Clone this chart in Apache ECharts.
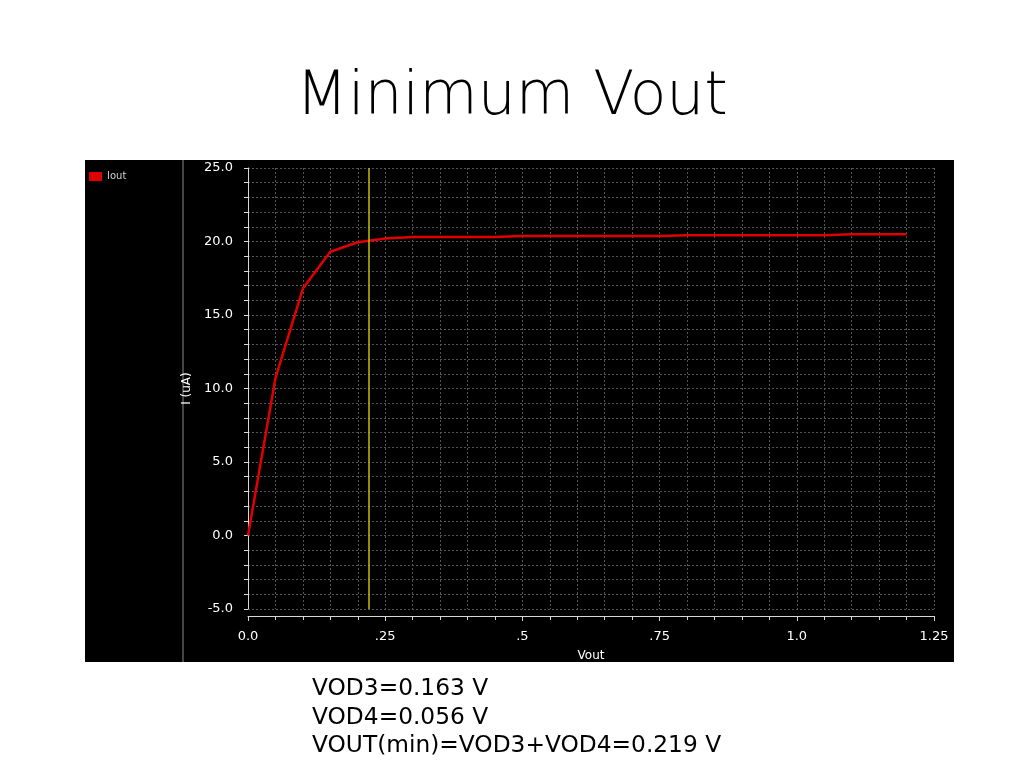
<!DOCTYPE html>
<html><head><meta charset="utf-8">
<script src="https://cdn.jsdelivr.net/npm/echarts@6/dist/echarts.min.js"></script>
<style>html,body{margin:0;padding:0;background:#fff}#c{width:1024px;height:768px}</style>
</head><body><div id="c"></div>
<script>
const vout = [0, 0.05, 0.1, 0.15, 0.2, 0.25, 0.3, 0.35, 0.4, 0.45, 0.5, 0.55, 0.6, 0.65, 0.7, 0.75, 0.8, 0.85, 0.9, 0.95, 1.0, 1.05, 1.1, 1.15, 1.2];
const iout = [0, 10.7, 16.8, 19.3, 19.95, 20.2, 20.3, 20.3, 20.3, 20.3, 20.38, 20.38, 20.38, 20.38, 20.38, 20.38, 20.42, 20.42, 20.42, 20.42, 20.42, 20.42, 20.5, 20.5, 20.5];
const cursorX = 0.219;
const xTickLabels = {"0": "0.0", "0.25": ".25", "0.5": ".5", "0.75": ".75", "1": "1.0", "1.25": "1.25"};
const notes = ["VOD3=0.163 V", "VOD4=0.056 V", "VOUT(min)=VOD3+VOD4=0.219 V"];

const chart = echarts.init(document.getElementById('c'), null, {renderer: 'canvas'});
const gridStyle = {color: '#555555', type: [2, 2], width: 1};
chart.setOption({
  backgroundColor: '#ffffff',
  animation: false,
  title: {text: 'Minimum Vout', left: 'center', top: 63,
    textStyle: {fontFamily: 'DejaVu Sans', fontWeight: 200, fontSize: 60, color: '#000'}},
  graphic: [
    {type: 'rect', shape: {x: 85, y: 160, width: 869, height: 502}, style: {fill: '#000'}, z: -10},
    {type: 'line', shape: {x1: 183, y1: 160, x2: 183, y2: 662}, style: {stroke: '#8a8a8a', lineWidth: 1}, z: -9},
    {type: 'rect', shape: {x: 89, y: 172, width: 13, height: 9}, style: {fill: '#e00000'}},
    {type: 'text', x: 107, y: 171, style: {text: 'Iout', fill: '#d0d0d0', fontSize: 10, fontFamily: 'DejaVu Sans'}},
    {type: 'text', x: 312, y: 675, style: {text: notes.join('\n'), fill: '#000', fontSize: 23.3, fontWeight: 'normal', lineHeight: 28.5, fontFamily: 'DejaVu Sans'}}
  ],
  grid: {left: 248, right: 90, top: 168, bottom: 159, containLabel: false},
  xAxis: {
    type: 'value', min: 0, max: 1.25, interval: 0.25, offset: 7,
    name: 'Vout', nameLocation: 'middle', nameGap: 34,
    nameTextStyle: {color: '#fff', fontSize: 12, fontFamily: 'DejaVu Sans'},
    axisLine: {show: true, onZero: false, lineStyle: {color: '#d8d8d8', width: 1}},
    axisTick: {show: true, length: 5, lineStyle: {color: '#d8d8d8'}},
    minorTick: {show: true, splitNumber: 5, length: 4, lineStyle: {color: '#d8d8d8'}},
    axisLabel: {color: '#fff', fontSize: 13, fontFamily: 'DejaVu Sans', margin: 14,
      formatter: v => xTickLabels[String(+v.toFixed(2))] ?? String(v)},
    splitLine: {show: true, lineStyle: gridStyle},
    minorSplitLine: {show: true, lineStyle: gridStyle}
  },
  yAxis: {
    type: 'value', min: -5, max: 25, interval: 5, offset: 8,
    name: 'I (uA)', nameLocation: 'middle', nameGap: 43, nameRotate: 90,
    nameTextStyle: {color: '#fff', fontSize: 12, fontFamily: 'DejaVu Sans'},
    axisLine: {show: true, lineStyle: {color: '#d8d8d8', width: 1}},
    axisTick: {show: true, length: 4, lineStyle: {color: '#d8d8d8'}},
    minorTick: {show: true, splitNumber: 5, length: 4, lineStyle: {color: '#d8d8d8'}},
    axisLabel: {color: '#fff', fontSize: 13, fontFamily: 'DejaVu Sans', margin: 7,
      formatter: v => v.toFixed(1)},
    splitLine: {show: true, lineStyle: gridStyle},
    minorSplitLine: {show: true, lineStyle: gridStyle}
  },
  series: [{
    name: 'Iout', type: 'line', showSymbol: false, symbol: 'none',
    data: vout.map((x, i) => [x, iout[i]]),
    lineStyle: {color: '#e00000', width: 2.5},
    markLine: {symbol: 'none', silent: true, label: {show: false},
      lineStyle: {color: '#c0c000', width: 1.5, type: 'solid'},
      data: [{xAxis: cursorX}]}
  }]
});
</script></body></html>
